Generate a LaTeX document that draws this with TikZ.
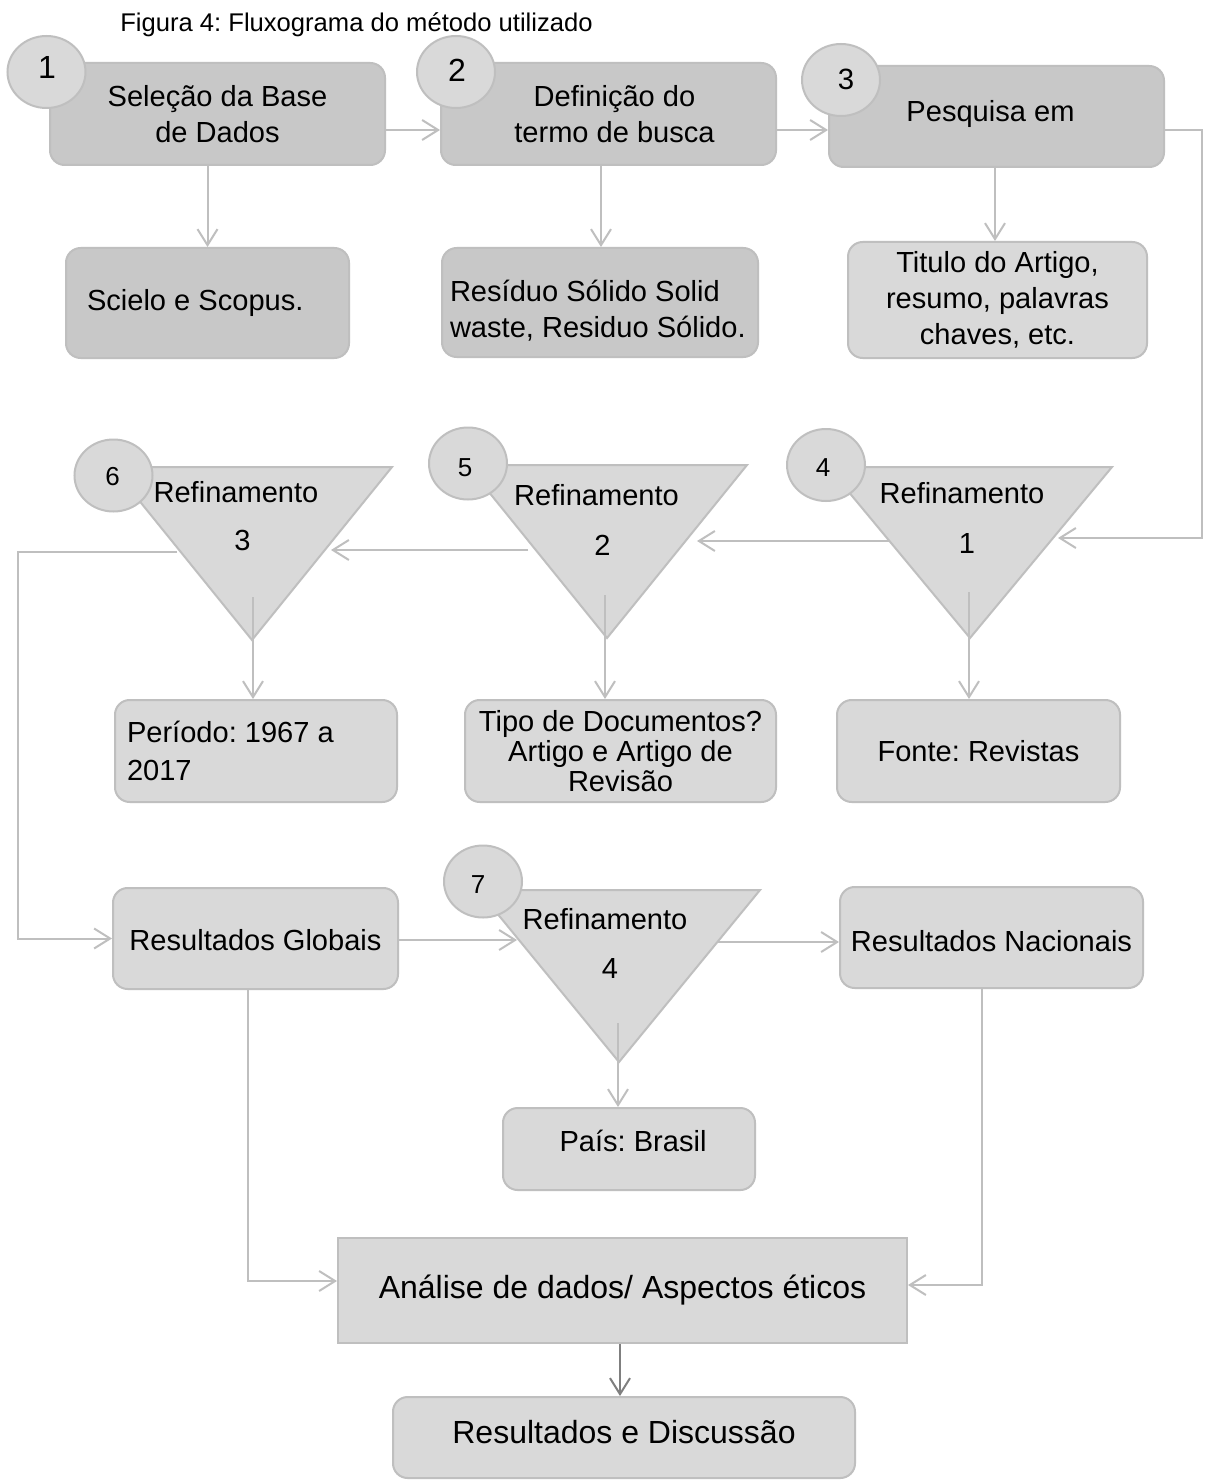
\documentclass[tikz,border=0pt]{standalone}
\usepackage{fontspec}
\setmainfont{Liberation Sans}
\usetikzlibrary{arrows.meta,shapes.geometric,calc}
\definecolor{lineC}{HTML}{BFBFBF}
\definecolor{darkF}{HTML}{C8C8C8}
\definecolor{lightF}{HTML}{D9D9D9}
\definecolor{arrDark}{HTML}{7F7F7F}
\newcommand\bxfont{\fontsize{21.8}{27}\selectfont}
\newcommand\bigbxfont{\fontsize{24}{28}\selectfont}
\newcommand\bigdig{\fontsize{24}{28}\selectfont}
\newcommand\smalldig{\fontsize{19.5}{23}\selectfont}
\newcommand\up[2]{\raisebox{#1}[\height][\depth]{#2}}
\frenchspacing
\begin{document}
\begin{tikzpicture}[x=0.75pt,y=-0.75pt,
  box/.style={draw=lineC, line width=1.5pt, rounded corners=11pt, font=\bxfont, align=center, inner sep=0pt},
  dbox/.style={box, fill=darkF},
  lbox/.style={box, fill=lightF},
  tri/.style={draw=lineC, line width=1.5pt, fill=lightF, line join=miter},
  numc/.style={ellipse, draw=lineC, line width=1.5pt, fill=lightF, minimum width=58.5pt, minimum height=54pt, inner sep=0pt},
  arr/.style={draw=lineC, line width=1.5pt, -{Straight Barb[length=12pt,width=15pt]}},
  tlbl/.style={font=\bxfont, anchor=base, inner sep=0pt}
]
\path[fill=white, use as bounding box] (0,0) rectangle (1205,1480);

% title
\node[anchor=base west, inner sep=0pt, font=\fontsize{19.2}{23}\selectfont] (title) at (120,32) {Figura 4: Fluxograma do método utilizado};

% triangles
\coordinate (t4a) at (828,467); \coordinate (t4b) at (1112,467); \coordinate (t4c) at (970,638);
\coordinate (t5a) at (467,465); \coordinate (t5b) at (747,465); \coordinate (t5c) at (607,638);
\coordinate (t6a) at (112,467); \coordinate (t6b) at (392,467); \coordinate (t6c) at (252,640);
\coordinate (t7a) at (478,890); \coordinate (t7b) at (760,890); \coordinate (t7c) at (619,1062);
\draw[tri] (t4a) -- (t4b) -- (t4c) -- cycle;
\draw[tri] (t5a) -- (t5b) -- (t5c) -- cycle;
\draw[tri] (t6a) -- (t6b) -- (t6c) -- cycle;
\draw[tri] (t7a) -- (t7b) -- (t7c) -- cycle;

% connector points on triangles
\coordinate (t4in) at (1058,538); \coordinate (t4out) at (890,541); \coordinate (t4dn) at (969,592);
\coordinate (t5in) at (697,541); \coordinate (t5out) at (528,550); \coordinate (t5dn) at (605,595);
\coordinate (t6in) at (331,550); \coordinate (t6out) at (177,552); \coordinate (t6dn) at (253,597);
\coordinate (t7in) at (517,940); \coordinate (t7out) at (718,942); \coordinate (t7dn) at (618,1023);

% boxes
\node[dbox, minimum width=251.25pt, minimum height=76.5pt] (b1) at (217.5,114) {Seleção da Base\\de Dados};
\node[dbox, minimum width=251.25pt, minimum height=76.5pt] (b2) at (608.5,114) {\hspace*{9pt}Definição do\\\hspace*{9pt}termo de busca};
\node[dbox, minimum width=251.25pt, minimum height=75.75pt] (b3) at (996.5,116.5) {\up{2pt}{Pesquisa em\hspace*{9pt}}};

\node[dbox, minimum height=82.5pt, inner xsep=15.75pt, text width=180.75pt, align=flush left] (s1) at (207.5,303) {Scielo e Scopus.};
\node[dbox, minimum height=81.75pt, inner xsep=6pt, text width=225pt, align=flush left] (s2) at (600,302.5) {\up{-6pt}{Resíduo Sólido Solid}\\\up{-6pt}{waste, Residuo Sólido.}};
\node[lbox, minimum width=224.25pt, minimum height=87pt] (s3) at (997.5,300) {Titulo do Artigo,\\resumo, palavras\\chaves, etc.};

\node[lbox, minimum height=76.5pt, inner xsep=9pt, text width=193.5pt, align=flush left, font=\fontsize{21.8}{29}\selectfont] (p6) at (256,751) {Período: 1967 a\\2017};
\node[lbox, minimum width=233.25pt, minimum height=76.5pt, font=\fontsize{21.8}{22.5}\selectfont] (p5) at (620.5,751) {Tipo de Documentos?\\Artigo e Artigo de\\Revisão};
\node[lbox, minimum width=212.25pt, minimum height=76.5pt] (p4) at (978.5,751) {Fonte: Revistas};

\node[lbox, minimum width=213.75pt, minimum height=75.75pt] (g) at (255.5,938.5) {\up{-1pt}{Resultados Globais}};
\node[lbox, minimum width=227.25pt, minimum height=75.75pt] (n) at (991.5,937.5) {\up{-3pt}{Resultados Nacionais}};
\node[lbox, minimum width=189pt, minimum height=61.5pt] (br) at (629,1149) {\up{6pt}{\hspace*{6pt}País: Brasil}};

\node[lbox, rounded corners=0pt, minimum width=426.75pt, minimum height=78.75pt, font=\bigbxfont] (an) at (622.5,1290.5) {Análise de dados/ Aspectos éticos};
\node[lbox, minimum width=346.5pt, minimum height=60.75pt, font=\bigbxfont] (rd) at (624,1437.5) {\up{4pt}{Resultados e Discussão}};

% triangle labels
\node[tlbl] (r1a) at (962,503) {Refinamento};
\node[tlbl] (r1b) at (967,553) {1};
\node[tlbl] (r2a) at (596.5,505) {Refinamento};
\node[tlbl] (r2b) at (602.5,555) {2};
\node[tlbl] (r3a) at (236,502) {Refinamento};
\node[tlbl] (r3b) at (242.5,550) {3};
\node[tlbl] (r4a) at (605,929) {Refinamento};
\node[tlbl] (r4b) at (610,978) {4};

% connectors
\draw[arr] (b1.east |- 0,130) -- (b2.west |- 0,130);
\draw[arr] (b2.east |- 0,130) -- (b3.west |- 0,130);
\draw[arr] (s1.north |- b1.south) -- (s1.north);
\draw[arr] (b2.south -| 601,0) -- (s2.north -| 601,0);
\draw[arr] (b3.south -| 995,0) -- (s3.north -| 995,0);
\draw[arr] (b3.east |- 0,130) -- (1202,130) |- (t4in);
\draw[arr] (t4out) -- (t5in |- t4out);
\draw[arr] (t5out) -- (t6in |- t5out);
\draw[arr] (t6out) -- (18,552) |- (g.west);
\draw[arr] (t4dn) -- (t4dn |- p4.north);
\draw[arr] (t5dn) -- (t5dn |- p5.north);
\draw[arr] (t6dn) -- (t6dn |- p6.north);
\draw[arr] (g.east |- t7in) -- (t7in);
\draw[arr] (t7out) -- (n.west |- t7out);
\draw[arr] (t7dn) -- (t7dn |- br.north);
\draw[arr] (g.south -| 248,0) |- (an.west |- 0,1281);
\draw[arr] (n.south -| 982,0) |- (an.east |- 0,1285);
\draw[arr, draw=arrDark] (an.south -| 620,0) -- (rd.north -| 620,0);

% number circles
\node[numc] (c1) at (46.5,72) {};
\node[numc] (c2) at (456,72) {};
\node[numc] (c3) at (841,80) {};
\node[numc] (c4) at (826,465) {};
\node[numc] (c5) at (468,463.5) {};
\node[numc] (c6) at (113.5,475.5) {};
\node[numc] (c7) at (483,881.5) {};
\node[font=\bigdig, inner sep=0pt] (d1) at (47,67) {1};
\node[font=\bigdig, inner sep=0pt] (d2) at (457,70) {2};
\node[font=\fontsize{22}{26}\selectfont, inner sep=0pt] (d3) at (846,79) {3};
\node[font=\smalldig, inner sep=0pt] (d4) at (823,468) {4};
\node[font=\smalldig, inner sep=0pt] (d5) at (465,468) {5};
\node[font=\smalldig, inner sep=0pt] (d6) at (112.5,477) {6};
\node[font=\smalldig, inner sep=0pt] (d7) at (478,885) {7};
\end{tikzpicture}
\end{document}
